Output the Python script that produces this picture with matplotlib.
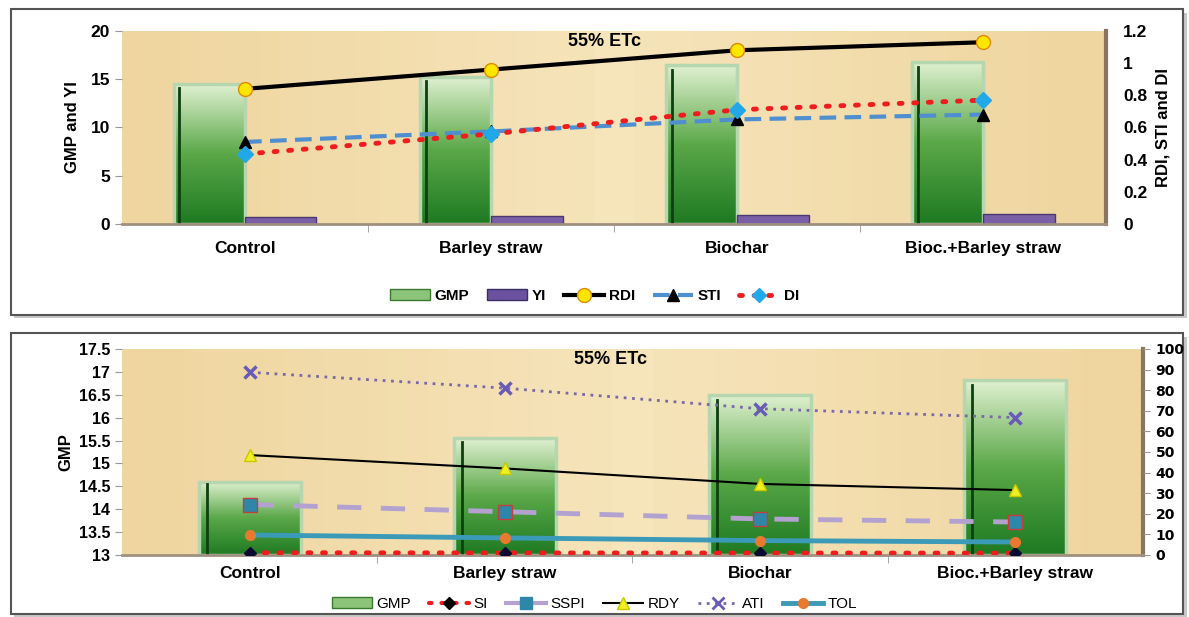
import numpy as np
import matplotlib
matplotlib.use("Agg")
import matplotlib.pyplot as plt
from matplotlib.patches import Rectangle, Patch
from matplotlib.lines import Line2D
from matplotlib.colors import LinearSegmentedColormap

plt.rcParams['font.family'] = ['Liberation Sans', 'DejaVu Sans']

categories = ["Control", "Barley straw", "Biochar", "Bioc.+Barley straw"]

# top chart
gmp = [14.5, 15.25, 16.45, 16.8]
yi = [0.72, 0.85, 0.95, 1.0]
rdi = [0.84, 0.96, 1.08, 1.13]
sti = [0.51, 0.575, 0.65, 0.68]
di = [0.435, 0.56, 0.71, 0.77]

# bottom chart
gmp2 = [14.6, 15.55, 16.5, 16.82]
si = [1.1, 1.0, 0.95, 0.9]
sspi = [24.5, 21.0, 17.5, 16.0]
rdy = [48.5, 42.0, 34.5, 31.5]
ati = [88.7, 81.0, 71.0, 66.7]
tol = [9.7, 8.3, 7.0, 6.3]

tan = "#f2dba6"
green_cmap = LinearSegmentedColormap.from_list("g", ["#1f7a22", "#5aa848", "#dff0d0"])
x = np.arange(len(categories))

fig = plt.figure(figsize=(11.89, 6.17), dpi=100)

# panel frames
for (y0, h) in [(0.49, 0.495), (0.005, 0.455)]:
    fig.patches.append(Rectangle((0.012, y0 - 0.006), 0.986, h, transform=fig.transFigure,
                                 facecolor="#c8c8c8", edgecolor="none", zorder=-2))
    fig.patches.append(Rectangle((0.009, y0), 0.986, h, transform=fig.transFigure,
                                 facecolor="white", edgecolor="#555555", lw=1.5, zorder=-1))


def gradient_bar(ax, xc, h, w, base):
    r = Rectangle((xc, base), w, h - base, facecolor="none", edgecolor="#b5d6ae", lw=2.5, zorder=2)
    ax.add_patch(r)
    grad = np.linspace(0, 1, 100).reshape(-1, 1)
    im = ax.imshow(grad, cmap=green_cmap, extent=(xc, xc + w, base, h), origin="lower",
                   aspect="auto", zorder=1.9)
    im.set_clip_path(r)
    ax.plot([xc + w * 0.08, xc + w * 0.08], [base, h - (h - base) * 0.03], color="#0d4010", lw=2, zorder=2.1)


def style_ax(ax):
    ax.set_facecolor(tan)
    bg = np.linspace(0, 1, 50)
    ax.imshow(1 - np.abs(bg[None, :] - 0.5) * 0.8,
              cmap=LinearSegmentedColormap.from_list("t", ["#efd59f", "#f6e4ba"]),
              extent=(0, 1, 0, 1), transform=ax.transAxes, aspect="auto", zorder=0)
    for s in ["top", "left"]:
        ax.spines[s].set_visible(False)
    ax.spines["right"].set_color("#8a7560")
    ax.spines["right"].set_linewidth(3)
    ax.spines["bottom"].set_color("#a09080")
    ax.spines["bottom"].set_linewidth(2)
    ax.set_xticks(x)
    ax.set_xticklabels(categories, fontsize=12.5, fontweight="bold")
    ax.tick_params(axis="x", length=0, pad=12)
    ax.set_xticks(np.arange(0.5, len(categories) - 1, 1), minor=True)
    ax.tick_params(axis="x", which="minor", length=6, color="#999999")
    ax.tick_params(axis="y", length=5, color="#999999")
    ax.set_xlim(-0.5, len(categories) - 0.5)


# ---------- top ----------
ax1 = fig.add_axes([0.1026, 0.637, 0.828, 0.3128])
style_ax(ax1)
ax1.set_ylim(0, 20)
ax1.set_yticks([0, 5, 10, 15, 20])
ax1.set_yticklabels([0, 5, 10, 15, 20], fontsize=12.5, fontweight="bold")
bw = 0.29
for i in range(len(categories)):
    gradient_bar(ax1, x[i] - bw, gmp[i], bw, 0)
ax1.bar(x + bw / 2, yi, bw, color="#7a5fa6", edgecolor="#4b3870", lw=1, zorder=2)
ax1.set_ylabel("GMP and YI", fontsize=12, fontweight="bold", labelpad=8)
ax1.text(0.49, 0.99, "55% ETc", transform=ax1.transAxes, ha="center", va="top",
         fontsize=13, fontweight="bold", zorder=5)

ax1r = ax1.twinx()
ax1r.set_ylim(0, 1.2)
ax1r.set_yticks([0, 0.2, 0.4, 0.6, 0.8, 1.0, 1.2])
ax1r.set_yticklabels(["0", "0.2", "0.4", "0.6", "0.8", "1", "1.2"], fontsize=12.5, fontweight="bold")
ax1r.tick_params(axis="y", length=0, pad=12)
for s in ["top", "left", "right", "bottom"]:
    ax1r.spines[s].set_visible(False)
ax1r.plot(x, rdi, color="black", lw=3, marker="o", ms=10, mfc="#ffe600", mec="#e08a00", zorder=5)
ax1r.plot(x, sti, color="#4f8fd0", lw=3, dashes=(4, 2), marker="^", ms=8, mfc="black", mec="black", zorder=5)
ax1r.plot(x, di, color="#ee1c1c", lw=3.5, dashes=(0.6, 2.4), dash_capstyle="round",
          marker="D", ms=8, mfc="#20a8e8", mec="#20a8e8", zorder=5)
ax1r.set_ylabel("RDI, STI and DI", fontsize=12, fontweight="bold", labelpad=6)

h1 = [Patch(facecolor="#8cc47a", edgecolor="#3a7a30"), Patch(facecolor="#6a52a0", edgecolor="#3d2d66"),
      Line2D([], [], color="black", lw=3, marker="o", ms=10, mfc="#ffe600", mec="#e08a00"),
      Line2D([], [], color="#4f8fd0", lw=3, dashes=(4, 2), marker="^", ms=8, mfc="black", mec="black"),
      Line2D([], [], color="#ee1c1c", lw=3.5, dashes=(0.6, 2.4), dash_capstyle="round",
             marker="D", ms=7, mfc="#20a8e8", mec="#20a8e8")]
fig.legend(h1, ["GMP", "YI", "RDI", "STI", "DI"], loc="center", bbox_to_anchor=(0.5, 0.52), ncol=5,
           frameon=False, prop={"size": 11, "weight": "bold"}, handlelength=2.6, columnspacing=1.2,
           handletextpad=0.3)

# ---------- bottom ----------
ax2 = fig.add_axes([0.1026, 0.1005, 0.8587, 0.3339])
style_ax(ax2)
ax2.set_ylim(13, 17.5)
yt = np.arange(13, 17.51, 0.5)
ax2.set_yticks(yt)
ax2.set_yticklabels([f"{v:g}" for v in yt], fontsize=11.5, fontweight="bold")
ax2.set_xticklabels(categories, fontsize=12.5, fontweight="bold")
ax2.tick_params(axis="x", pad=8)
bw2 = 0.4
for i in range(len(categories)):
    gradient_bar(ax2, x[i] - bw2 / 2, gmp2[i], bw2, 13)
ax2.set_ylabel("GMP", fontsize=12, fontweight="bold", labelpad=4)
ax2.text(0.478, 0.99, "55% ETc", transform=ax2.transAxes, ha="center", va="top",
         fontsize=13, fontweight="bold", zorder=5)

ax2r = ax2.twinx()
ax2r.set_ylim(0, 100)
ax2r.set_yticks(np.arange(0, 101, 10))
ax2r.set_yticklabels([str(v) for v in range(0, 101, 10)], fontsize=10, fontweight="bold",
                     family="DejaVu Sans")
ax2r.tick_params(axis="y", length=5, color="#999999", pad=4)
for s in ["top", "left", "right", "bottom"]:
    ax2r.spines[s].set_visible(False)
ax2r.plot(x, si, color="#ee1c1c", lw=3.5, dashes=(0.6, 2.4), dash_capstyle="round",
          marker="D", ms=6, mfc="#0a0a30", mec="#0a0a30", zorder=5)
ax2r.plot(x, sspi, color="#b3a2cf", lw=3.5, dashes=(5, 4), marker="s", ms=10, mfc="#2e86a8",
          mec="#c04040", zorder=5)
ax2r.plot(x, rdy, color="black", lw=1.5, marker="^", ms=8, mfc="#f0f020", mec="#c8c800", zorder=5)
ax2r.plot(x, ati, color="#7a68a8", lw=2, dashes=(1, 2), marker="x", ms=9, mew=2.5, mec="#6a5ab8", zorder=5)
ax2r.plot(x, tol, color="#3a9ab8", lw=3.5, marker="o", ms=7, mfc="#e87a30", mec="#e87a30", zorder=5)

h2 = [Patch(facecolor="#8cc47a", edgecolor="#3a7a30"),
      Line2D([], [], color="#ee1c1c", lw=3, dashes=(0.6, 2.4), dash_capstyle="round", marker="D", ms=6,
             mfc="black", mec="black"),
      Line2D([], [], color="#b3a2cf", lw=3, marker="s", ms=9, mfc="#2e86a8", mec="#2e86a8"),
      Line2D([], [], color="black", lw=1.5, marker="^", ms=8, mfc="#f0f020", mec="#c8c800"),
      Line2D([], [], color="#7a68a8", lw=2, dashes=(1, 2), marker="x", ms=8, mew=2, mec="#6a5ab8"),
      Line2D([], [], color="#3a9ab8", lw=3.5, marker="o", ms=7, mfc="#e87a30", mec="#e87a30")]
fig.legend(h2, ["GMP", "SI", "SSPI", "RDY", "ATI", "TOL"], loc="center", bbox_to_anchor=(0.5, 0.021),
           ncol=6, frameon=False, prop={"size": 11}, handlelength=2.6, columnspacing=1.2,
           handletextpad=0.3)

fig.savefig("out.png", dpi=100)
